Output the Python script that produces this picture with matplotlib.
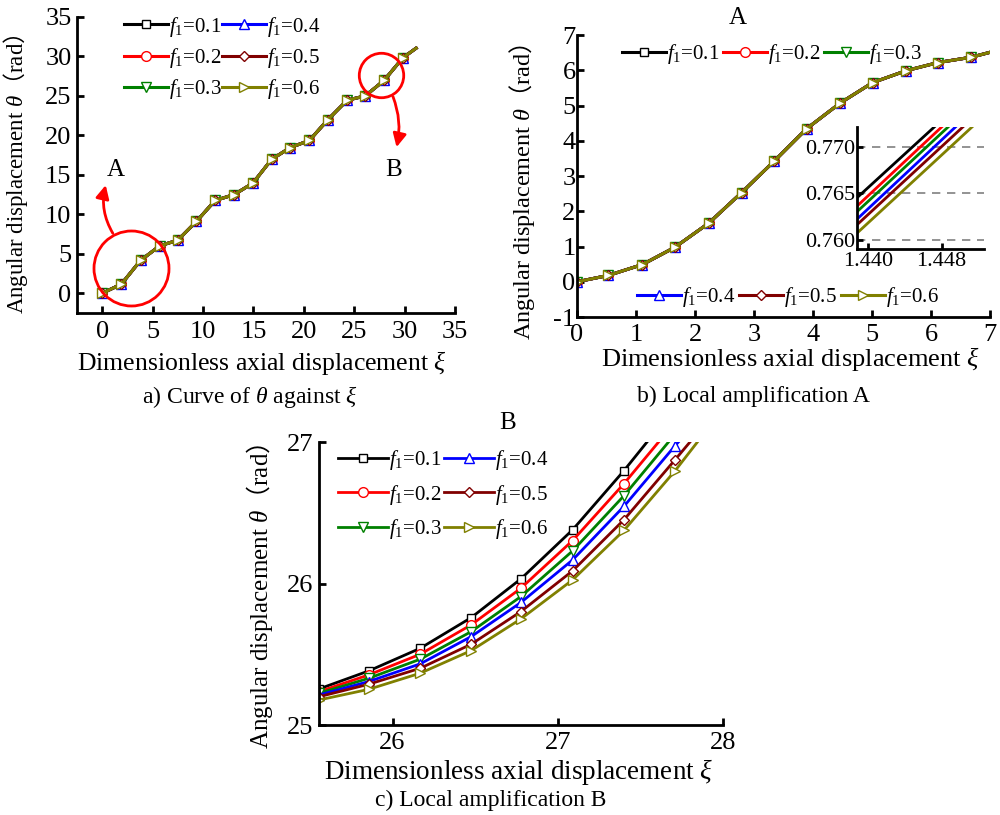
import matplotlib
matplotlib.use("Agg")
import matplotlib.pyplot as plt

plt.rcParams["font.family"] = ["Liberation Serif", "Noto Sans CJK SC"]
plt.rcParams["mathtext.fontset"] = "custom"
plt.rcParams["mathtext.rm"] = "Liberation Serif"
plt.rcParams["mathtext.it"] = "Liberation Serif:italic"
plt.rcParams["mathtext.sf"] = "Noto Sans CJK SC"
plt.rcParams["axes.unicode_minus"] = False

# series settings
f1_values = [0.1, 0.2, 0.3, 0.4, 0.5, 0.6]
colors = ["#000000", "#ff0000", "#008000", "#0000ff", "#800000", "#808000"]
markers = ["s", "o", "v", "^", "D", ">"]
marker_sizes = [6, 7, 7, 7, 5.5, 7]

# a) full curve (all f1 values coincide at this scale)
xi_a = [0.0, 1.9, 3.8, 5.7, 7.5, 9.35, 11.2, 13.1, 14.95, 16.8, 18.65,
        20.55, 22.4, 24.3, 26.1, 27.95, 29.85, 31.15]
theta_a = [0.0, 1.15, 4.15, 6.0, 6.72, 9.1, 11.75, 12.5, 13.95, 16.95, 18.45,
           19.35, 22.0, 24.45, 25.0, 26.95, 29.85, 31.05]

# b) zoom on region A
xi_b = [0.0, 0.53, 1.11, 1.66, 2.23, 2.79, 3.34, 3.89, 4.46, 5.01, 5.58,
        6.12, 6.68, 7.0]
theta_b = [0.0, 0.18, 0.49, 0.98, 1.66, 2.53, 3.42, 4.34, 5.07, 5.65, 5.99,
           6.22, 6.37, 6.51]

# inset of b): straight segments from left edge to top edge
inset_xi_left = 1.4388
inset_theta_left = [0.7645, 0.7636, 0.7630, 0.7622, 0.7616, 0.7607]
inset_xi_top = [1.4472, 1.4480, 1.4487, 1.4495, 1.4503, 1.4513]
inset_theta_top = 0.7721

# c) zoom on region B
xi_c = [25.555, 25.855, 26.167, 26.476, 26.777, 27.09, 27.40, 27.71]
theta_c = [
    [25.255, 25.382, 25.542, 25.759, 26.033, 26.380, 26.797],
    [25.236, 25.354, 25.500, 25.708, 25.967, 26.304, 26.705],
    [25.224, 25.330, 25.465, 25.660, 25.908, 26.231, 26.620],
    [25.212, 25.307, 25.432, 25.625, 25.866, 26.167, 26.545, 26.974],
    [25.200, 25.288, 25.401, 25.571, 25.802, 26.090, 26.450, 26.875],
    [25.177, 25.252, 25.366, 25.526, 25.750, 26.026, 26.375, 26.797],
]
# where each curve leaves the top of panel c
xi_c_exit = [27.54, 27.61, 27.67, 27.73, 27.80, 27.845]

ylabel = "Angular displacement $\\theta\\mathsf{（}$rad$\\mathsf{）}$"
xlabel = "Dimensionless axial displacement $\\xi$"


def style(ax, padx, pady, size=19):
    for s in ("top", "right"):
        ax.spines[s].set_visible(False)
    for s in ("left", "bottom"):
        ax.spines[s].set_linewidth(2)
    ax.tick_params(direction="in", length=5, width=2, labelsize=size)
    ax.tick_params(axis="x", pad=padx)
    ax.tick_params(axis="y", pad=pady)


def labels(f):
    return "$f_1$=%g" % f


arrow_kw = dict(arrowstyle="-|>", color="red", lw=2, mutation_scale=20,
                shrinkA=0, shrinkB=0)

fig = plt.figure(figsize=(10, 8.15), dpi=100)

# ---------- a) ----------
ax1 = fig.add_axes([0.077, 0.616, 0.378, 0.3632])
last = len(xi_a) - 1
for i, f in enumerate(f1_values):
    ax1.plot(xi_a, theta_a, color=colors[i], lw=2.2, marker=markers[i],
             ms=marker_sizes[i], mfc="white", mec=colors[i], mew=1,
             markevery=list(range(last)), label=labels(f))
ax1.set_xlim(-2.5, 35)
ax1.set_ylim(-2.5, 35)
ax1.set_xticks(range(0, 36, 5))
ax1.set_yticks(range(0, 36, 5))
style(ax1, 6, 4)
ax1.set_xlabel(xlabel, fontsize=18.5)
ax1.set_ylabel(ylabel, fontsize=16.5)
ax1.xaxis.set_label_coords(0.489, -0.122)
ax1.yaxis.set_label_coords(-0.125, 0.47)
ax1.legend(ncol=2, loc="upper left", bbox_to_anchor=(0.124, 0.982),
           bbox_transform=fig.transFigure, frameon=False, fontsize=15,
           borderpad=0, borderaxespad=0, handlelength=2.1, handletextpad=0.05,
           columnspacing=0.05, labelspacing=0.35)

# red circles and arrows marking the zoomed regions
ax1.plot([2.88], [3.2], "o", ms=54, mfc="none", mec="red", mew=2)
ax1.plot([27.7], [27.6], "o", ms=32, mfc="none", mec="red", mew=2)
ax1.annotate("", xy=(0.35, 13.7), xytext=(1.05, 7.6),
             arrowprops=dict(connectionstyle="arc3,rad=-0.2", **arrow_kw))
ax1.annotate("", xy=(29.2, 18.5), xytext=(28.85, 24.9),
             arrowprops=dict(connectionstyle="arc3,rad=-0.15", **arrow_kw))
ax1.text(1.35, 15.6, "A", fontsize=18, ha="center", va="center")
ax1.text(28.9, 15.6, "B", fontsize=18, ha="center", va="center")

# ---------- b) ----------
ax2 = fig.add_axes([0.577, 0.611, 0.413, 0.346])
last = len(xi_b) - 1
handles = []
for i, f in enumerate(f1_values):
    h, = ax2.plot(xi_b, theta_b, color=colors[i], lw=2.2, marker=markers[i],
                  ms=marker_sizes[i], mfc="white", mec=colors[i], mew=1,
                  markevery=list(range(last)), label=labels(f))
    handles.append(h)
ax2.set_xlim(0, 7)
ax2.set_ylim(-1, 7)
ax2.set_xticks(range(0, 8))
ax2.set_yticks(range(-1, 8))
style(ax2, 5, 1)
ax2.set_xlabel(xlabel, fontsize=19)
ax2.set_ylabel(ylabel, fontsize=17.5)
ax2.xaxis.set_label_coords(0.516, -0.1)
ax2.yaxis.set_label_coords(-0.097, 0.443)
leg_top = ax2.legend(handles=handles[:3], ncol=3, loc="upper left",
                     bbox_to_anchor=(0.622, 0.948),
                     bbox_transform=fig.transFigure, frameon=False,
                     fontsize=15, borderpad=0, borderaxespad=0,
                     handlelength=2.1, handletextpad=0.05, columnspacing=0.2)
ax2.add_artist(leg_top)
ax2.legend(handles=handles[3:], ncol=3, loc="upper left",
           bbox_to_anchor=(0.637, 0.650), bbox_transform=fig.transFigure,
           frameon=False, fontsize=15, borderpad=0, borderaxespad=0,
           handlelength=2.1, handletextpad=0.05, columnspacing=0.2)

# inset near xi = 1.44
ax_in = fig.add_axes([0.857, 0.6945, 0.127, 0.1497])
ax_in.set_facecolor("none")
for i in range(len(f1_values)):
    ax_in.plot([inset_xi_left, inset_xi_top[i]],
               [inset_theta_left[i], inset_theta_top],
               color=colors[i], lw=2)
ax_in.set_xlim(1.4388, 1.4526)
ax_in.set_ylim(0.7590, 0.7721)
ax_in.set_xticks([1.440, 1.448])
ax_in.set_xticklabels(["1.440", "1.448"])
ax_in.set_yticks([0.760, 0.765, 0.770])
ax_in.set_yticklabels(["0.760", "0.765", "0.770"])
ax_in.grid(axis="y", color="#808080", ls=(0, (5, 4)), lw=1.2)
style(ax_in, 2, 1, size=16)
ax_in.tick_params(length=4)

# ---------- c) ----------
ax3 = fig.add_axes([0.319, 0.1104, 0.404, 0.3472])
for i, f in enumerate(f1_values):
    th = theta_c[i]
    xs = xi_c[:len(th)] + [xi_c_exit[i]]
    ys = th + [27.0]
    ax3.plot(xs, ys, color=colors[i], lw=2, marker=markers[i],
             ms=marker_sizes[i], mfc="white", mec=colors[i], mew=1,
             markevery=list(range(len(th))), label=labels(f))
ax3.set_xlim(25.555, 28)
ax3.set_ylim(25, 27)
ax3.set_xticks([26, 27, 28])
ax3.set_yticks([25, 26, 27])
style(ax3, 5, 4)
ax3.set_xlabel(xlabel, fontsize=19.5)
ax3.set_ylabel(ylabel, fontsize=18)
ax3.xaxis.set_label_coords(0.494, -0.112)
ax3.yaxis.set_label_coords(-0.109, 0.456)
ax3.legend(ncol=2, loc="upper left", bbox_to_anchor=(0.338, 0.45),
           bbox_transform=fig.transFigure, frameon=False, fontsize=15,
           borderpad=0, borderaxespad=0, handlelength=2.4, handletextpad=0.05,
           columnspacing=0.1, labelspacing=0.5)

# panel titles and captions
fig.text(0.738, 0.978, "A", fontsize=18, ha="center", va="center")
fig.text(0.508, 0.481, "B", fontsize=18, ha="center", va="center")
fig.text(0.25, 0.513, "a) Curve of $\\theta$ against $\\xi$", fontsize=17,
         ha="center", va="center")
fig.text(0.753, 0.513, "b) Local amplification A", fontsize=17,
         ha="center", va="center")
fig.text(0.491, 0.018, "c) Local amplification B", fontsize=17,
         ha="center", va="center")

fig.savefig("out.png", dpi=100)
